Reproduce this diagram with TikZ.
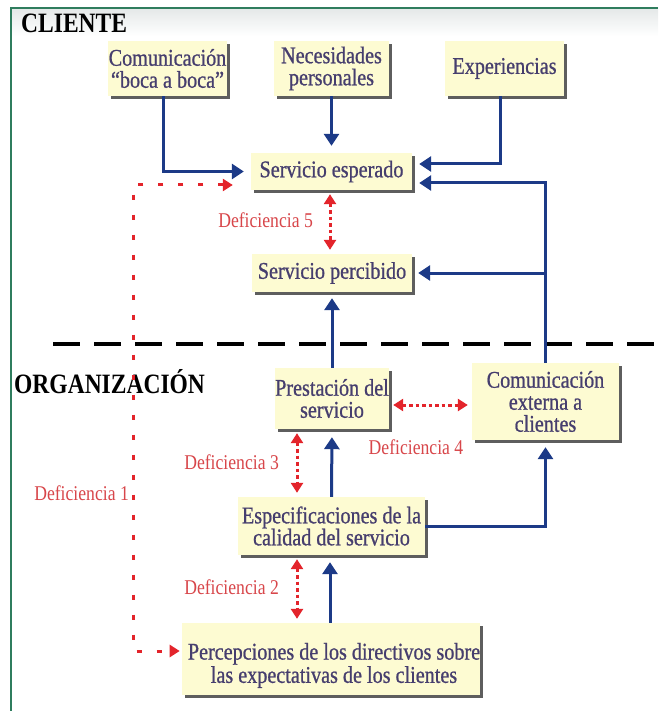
\documentclass[tikz,border=0pt]{standalone}
\usepackage{fontspec}
\setmainfont{Liberation Serif}[FakeStretch=0.84]
\newfontfamily\boxfont{Liberation Serif}[FakeStretch=0.84,FakeBold=0.8]
\usetikzlibrary{arrows.meta,shadows}

\definecolor{boxfill}{HTML}{FDFBD2}
\definecolor{boxtext}{HTML}{463E6E}
\definecolor{shadowgray}{HTML}{5E5E5E}
\definecolor{navy}{HTML}{1C3A87}
\definecolor{gapred}{HTML}{E3242B}
\definecolor{labred}{HTML}{D8464A}
\definecolor{framegreen}{HTML}{2F7D5E}
\definecolor{bandgray}{HTML}{E4E8E8}

\begin{document}
\begin{tikzpicture}[x=1pt,y=-1pt,
  ybox/.style={fill=boxfill, text=boxtext, align=center, inner sep=0pt,
    font=\boxfont\fontsize{24}{22}\selectfont,
    drop shadow={shadow xshift=3pt, shadow yshift=-3pt, fill=shadowgray, opacity=1}},
  flowarrow/.style={navy, line width=3pt, -{Triangle[width=15pt,length=12pt]}, shorten >=7pt},
  gaparrow/.style={gapred, line width=3pt, dash pattern=on 3.5pt off 3pt,
    {Triangle[width=12pt,length=10pt]}-{Triangle[width=12pt,length=10pt]},
    shorten <=4pt, shorten >=4pt},
  dotline/.style={gapred, line width=3pt, dash pattern=on 5pt off 15pt,
    {Triangle[width=12pt,length=10pt]}-{Triangle[width=12pt,length=10pt]},
    shorten <=18pt, shorten >=2pt},
  gaplabel/.style={text=labred, font=\fontsize{21}{22}\selectfont, inner sep=0pt},
  titletext/.style={font=\fontsize{28}{30}\selectfont\bfseries, text=black, inner sep=0pt}]

\useasboundingbox (0,0) rectangle (658,711);
\fill[white] (0,0) rectangle (658,711);
\shade[top color=bandgray, bottom color=white] (11,8) rectangle (658,36);
\draw[framegreen, line width=1.5pt] (11,711) -- (11,8) -- (658,8);

% separator
\draw[black, line width=4pt, dash pattern=on 27pt off 14pt] (53,344) -- (658,344);

% titles
\node[titletext, anchor=base west] (cli) at (21,33) {CLIENTE};
\node[titletext, anchor=base west] (org) at (14,393) {ORGANIZACIÓN};

% boxes
\node[ybox, minimum width=119pt, minimum height=55pt] (com) at (167.5,68.5) {Comunicación\\“boca a boca”};
\node[ybox, minimum width=115pt, minimum height=55pt] (nec) at (331.5,68.5) {Necesidades\\personales};
\node[ybox, minimum width=119pt, minimum height=55pt] (exp) at (504.5,68.5) {Experiencias};
\node[ybox, minimum width=161pt, minimum height=37pt] (esp) at (331.5,171.5) {Servicio esperado};
\node[ybox, minimum width=160pt, minimum height=38pt] (per) at (332,273) {Servicio percibido};
\node[ybox, minimum width=114pt, minimum height=61pt] (pre) at (332,398.5) {Prestación del\\servicio};
\node[ybox, minimum width=147pt, minimum height=77pt] (ext) at (545.5,401.5) {Comunicación\\externa a\\clientes};
\node[ybox, minimum width=187pt, minimum height=58pt] (spec) at (331.5,526) {Especificaciones de la\\calidad del servicio};
\node[ybox, minimum width=292pt, minimum height=72pt] (perc) at (331,659) {\begin{tabular}{@{}c@{}}\rule{0pt}{31pt}\hspace*{6pt}Percepciones de los directivos sobre\\\hspace*{6pt}las expectativas de los clientes\end{tabular}};

% blue flows
\draw[flowarrow] ([xshift=-4pt]com.south) |- (esp.west);
\draw[flowarrow] (nec.south) -- (esp.north);
\draw[flowarrow] ([xshift=-4pt]exp.south) |- ([yshift=7.5pt]esp.east);
\draw[flowarrow] (ext.north) |- ([yshift=-11.5pt]esp.east);
\draw[flowarrow, shorten >=6pt] (ext.north |- per.east) -- (per.east);
\draw[flowarrow, shorten >=6pt] (pre.north) -- (per.south);
\draw[flowarrow, shorten >=8pt] (spec.north) -- (pre.south);
\draw[flowarrow] ([xshift=-1pt]perc.north) -- ([xshift=-1pt]perc.north |- spec.south);
\draw[flowarrow] (spec.east) -| (ext.south);

% gaps
\draw[gaparrow] ([xshift=-1.5pt]esp.south) -- ([xshift=-1.5pt]esp.south |- per.north);
\draw[gaparrow] ([yshift=-6.5pt]pre.east) -- ([yshift=-6.5pt]pre.east -| ext.west);
\draw[gaparrow] ([xshift=-35pt]pre.south) -- ([xshift=-35pt]pre.south |- spec.north);
\draw[gaparrow] ([xshift=-34.5pt]spec.south) -- ([xshift=-34.5pt]spec.south |- perc.north);
\coordinate (d1) at (133,651);
\draw[dotline] ([yshift=-13.5pt]esp.west) -| (d1) -- ([yshift=8pt]perc.west);

% gap labels
\node[gaplabel, anchor=east] (l5) at (313,220) {Deficiencia 5};
\node[gaplabel] (l4) at (416,447) {Deficiencia 4};
\node[gaplabel, anchor=east] (l3) at (279,462) {Deficiencia 3};
\node[gaplabel, anchor=east] (l2) at (279,587) {Deficiencia 2};
\node[gaplabel, anchor=east] (l1) at (129,493) {Deficiencia 1};
\end{tikzpicture}
\end{document}
